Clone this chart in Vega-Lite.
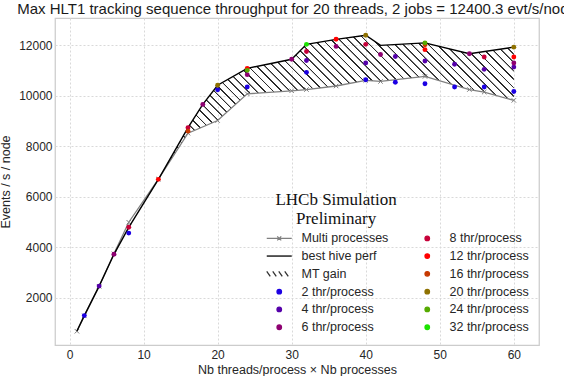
{
  "$schema": "https://vega.github.io/schema/vega-lite/v6.json",
  "width": 484,
  "height": 327,
  "autosize": {"type": "none"},
  "padding": {"left": 55, "top": 18, "right": 25, "bottom": 31},
  "title": {
    "text": "Max HLT1 tracking sequence throughput for 20 threads, 2 jobs = 12400.3 evt/s/node",
    "anchor": "middle",
    "frame": "group",
    "font": "Liberation Sans",
    "fontSize": 15,
    "fontWeight": "normal",
    "color": "#1a1a1a",
    "baseline": "alphabetic",
    "offset": -10.5
  },
  "data": {
    "values": [
      {"series": "Multi processes", "x": 1, "y": 670},
      {"series": "Multi processes", "x": 2, "y": 1280},
      {"series": "Multi processes", "x": 4, "y": 2450},
      {"series": "Multi processes", "x": 6, "y": 3740},
      {"series": "Multi processes", "x": 8, "y": 4990},
      {"series": "Multi processes", "x": 12, "y": 6700},
      {"series": "Multi processes", "x": 16, "y": 8520},
      {"series": "Multi processes", "x": 20, "y": 9020},
      {"series": "Multi processes", "x": 24, "y": 10080},
      {"series": "Multi processes", "x": 30, "y": 10200},
      {"series": "Multi processes", "x": 32, "y": 10250},
      {"series": "Multi processes", "x": 36, "y": 10390},
      {"series": "Multi processes", "x": 40, "y": 10610},
      {"series": "Multi processes", "x": 42, "y": 10570},
      {"series": "Multi processes", "x": 48, "y": 10770},
      {"series": "Multi processes", "x": 54, "y": 10250},
      {"series": "Multi processes", "x": 56, "y": 10150},
      {"series": "Multi processes", "x": 60, "y": 9820},
      {"series": "best hive perf", "x": 1, "y": 680},
      {"series": "best hive perf", "x": 2, "y": 1290},
      {"series": "best hive perf", "x": 4, "y": 2460},
      {"series": "best hive perf", "x": 6, "y": 3720},
      {"series": "best hive perf", "x": 8, "y": 4790},
      {"series": "best hive perf", "x": 12, "y": 6690},
      {"series": "best hive perf", "x": 16, "y": 8740},
      {"series": "best hive perf", "x": 18, "y": 9660},
      {"series": "best hive perf", "x": 20, "y": 10420},
      {"series": "best hive perf", "x": 24, "y": 11090},
      {"series": "best hive perf", "x": 30, "y": 11450},
      {"series": "best hive perf", "x": 32, "y": 12040},
      {"series": "best hive perf", "x": 36, "y": 12240},
      {"series": "best hive perf", "x": 40, "y": 12400.3},
      {"series": "best hive perf", "x": 42, "y": 12000},
      {"series": "best hive perf", "x": 48, "y": 12100},
      {"series": "best hive perf", "x": 54, "y": 11670},
      {"series": "best hive perf", "x": 60, "y": 11930},
      {"series": "2 thr/process", "x": 2, "y": 1290},
      {"series": "2 thr/process", "x": 8, "y": 4560},
      {"series": "2 thr/process", "x": 20, "y": 10240},
      {"series": "2 thr/process", "x": 24, "y": 10350},
      {"series": "2 thr/process", "x": 32, "y": 10930},
      {"series": "2 thr/process", "x": 40, "y": 10640},
      {"series": "2 thr/process", "x": 44, "y": 10540},
      {"series": "2 thr/process", "x": 48, "y": 10480},
      {"series": "2 thr/process", "x": 52, "y": 10350},
      {"series": "2 thr/process", "x": 56, "y": 10350},
      {"series": "2 thr/process", "x": 60, "y": 10170},
      {"series": "4 thr/process", "x": 4, "y": 2460},
      {"series": "4 thr/process", "x": 32, "y": 11400},
      {"series": "4 thr/process", "x": 40, "y": 11300},
      {"series": "4 thr/process", "x": 44, "y": 11560},
      {"series": "4 thr/process", "x": 48, "y": 11380},
      {"series": "4 thr/process", "x": 52, "y": 11250},
      {"series": "4 thr/process", "x": 56, "y": 11050},
      {"series": "4 thr/process", "x": 60, "y": 11140},
      {"series": "6 thr/process", "x": 6, "y": 3720},
      {"series": "6 thr/process", "x": 18, "y": 9660},
      {"series": "6 thr/process", "x": 24, "y": 10840},
      {"series": "6 thr/process", "x": 30, "y": 11450},
      {"series": "6 thr/process", "x": 36, "y": 11960},
      {"series": "6 thr/process", "x": 42, "y": 11640},
      {"series": "6 thr/process", "x": 54, "y": 11670},
      {"series": "6 thr/process", "x": 60, "y": 11300},
      {"series": "8 thr/process", "x": 8, "y": 4790},
      {"series": "8 thr/process", "x": 16, "y": 8740},
      {"series": "8 thr/process", "x": 32, "y": 11760},
      {"series": "8 thr/process", "x": 40, "y": 12040},
      {"series": "8 thr/process", "x": 56, "y": 11540},
      {"series": "12 thr/process", "x": 12, "y": 6690},
      {"series": "12 thr/process", "x": 24, "y": 11090},
      {"series": "12 thr/process", "x": 36, "y": 12240},
      {"series": "12 thr/process", "x": 48, "y": 11830},
      {"series": "12 thr/process", "x": 60, "y": 11540},
      {"series": "16 thr/process", "x": 16, "y": 8600},
      {"series": "16 thr/process", "x": 48, "y": 12020},
      {"series": "20 thr/process", "x": 20, "y": 10420},
      {"series": "20 thr/process", "x": 40, "y": 12400.3},
      {"series": "20 thr/process", "x": 60, "y": 11930},
      {"series": "24 thr/process", "x": 24, "y": 11010},
      {"series": "24 thr/process", "x": 48, "y": 12100},
      {"series": "32 thr/process", "x": 32, "y": 12040}
    ]
  },
  "encoding": {
    "x": {
      "field": "x",
      "type": "quantitative",
      "scale": {"domain": [-1.96, 63.4], "nice": false, "zero": false},
      "axis": {
        "values": [0, 10, 20, 30, 40, 50, 60],
        "title": "Nb threads/process × Nb processes",
        "labelPadding": 4,
        "titlePadding": 3,
        "labelFlush": false
      }
    },
    "y": {
      "field": "y",
      "type": "quantitative",
      "scale": {"domain": [125, 13085], "nice": false, "zero": false},
      "axis": {
        "values": [2000, 4000, 6000, 8000, 10000, 12000],
        "format": "d",
        "title": "Events / s / node",
        "labelPadding": 3,
        "titlePadding": 6
      }
    }
  },
  "layer": [
    {
      "transform": [
        {"filter": "(datum.series === 'Multi processes' || datum.series === 'best hive perf') && datum.x >= 12"},
        {"calculate": "datum.series === 'best hive perf' ? datum.x : 200 - datum.x", "as": "outline_order"}
      ],
      "mark": {
        "type": "line",
        "stroke": "transparent",
        "fill": {
          "gradient": "linear",
          "x1": 0, "y1": 1, "x2": 1.22, "y2": 0.5057,
          "stops": [
            {"offset": 0, "color": "rgba(0,0,0,0)"}, {"offset": 0.0008, "color": "#2b2b2b"}, {"offset": 0.0032, "color": "#2b2b2b"}, {"offset": 0.004, "color": "rgba(0,0,0,0)"},
            {"offset": 0.0167, "color": "rgba(0,0,0,0)"}, {"offset": 0.0175, "color": "#2b2b2b"}, {"offset": 0.0199, "color": "#2b2b2b"}, {"offset": 0.0207, "color": "rgba(0,0,0,0)"},
            {"offset": 0.0333, "color": "rgba(0,0,0,0)"}, {"offset": 0.0341, "color": "#2b2b2b"}, {"offset": 0.0365, "color": "#2b2b2b"}, {"offset": 0.0373, "color": "rgba(0,0,0,0)"},
            {"offset": 0.05, "color": "rgba(0,0,0,0)"}, {"offset": 0.0508, "color": "#2b2b2b"}, {"offset": 0.0532, "color": "#2b2b2b"}, {"offset": 0.054, "color": "rgba(0,0,0,0)"},
            {"offset": 0.0667, "color": "rgba(0,0,0,0)"}, {"offset": 0.0675, "color": "#2b2b2b"}, {"offset": 0.0699, "color": "#2b2b2b"}, {"offset": 0.0707, "color": "rgba(0,0,0,0)"},
            {"offset": 0.0833, "color": "rgba(0,0,0,0)"}, {"offset": 0.0841, "color": "#2b2b2b"}, {"offset": 0.0865, "color": "#2b2b2b"}, {"offset": 0.0873, "color": "rgba(0,0,0,0)"},
            {"offset": 0.1, "color": "rgba(0,0,0,0)"}, {"offset": 0.1008, "color": "#2b2b2b"}, {"offset": 0.1032, "color": "#2b2b2b"}, {"offset": 0.104, "color": "rgba(0,0,0,0)"},
            {"offset": 0.1167, "color": "rgba(0,0,0,0)"}, {"offset": 0.1175, "color": "#2b2b2b"}, {"offset": 0.1199, "color": "#2b2b2b"}, {"offset": 0.1207, "color": "rgba(0,0,0,0)"},
            {"offset": 0.1333, "color": "rgba(0,0,0,0)"}, {"offset": 0.1341, "color": "#2b2b2b"}, {"offset": 0.1365, "color": "#2b2b2b"}, {"offset": 0.1373, "color": "rgba(0,0,0,0)"},
            {"offset": 0.15, "color": "rgba(0,0,0,0)"}, {"offset": 0.1508, "color": "#2b2b2b"}, {"offset": 0.1532, "color": "#2b2b2b"}, {"offset": 0.154, "color": "rgba(0,0,0,0)"},
            {"offset": 0.1667, "color": "rgba(0,0,0,0)"}, {"offset": 0.1675, "color": "#2b2b2b"}, {"offset": 0.1699, "color": "#2b2b2b"}, {"offset": 0.1707, "color": "rgba(0,0,0,0)"},
            {"offset": 0.1833, "color": "rgba(0,0,0,0)"}, {"offset": 0.1841, "color": "#2b2b2b"}, {"offset": 0.1865, "color": "#2b2b2b"}, {"offset": 0.1873, "color": "rgba(0,0,0,0)"},
            {"offset": 0.2, "color": "rgba(0,0,0,0)"}, {"offset": 0.2008, "color": "#2b2b2b"}, {"offset": 0.2032, "color": "#2b2b2b"}, {"offset": 0.204, "color": "rgba(0,0,0,0)"},
            {"offset": 0.2167, "color": "rgba(0,0,0,0)"}, {"offset": 0.2175, "color": "#2b2b2b"}, {"offset": 0.2199, "color": "#2b2b2b"}, {"offset": 0.2207, "color": "rgba(0,0,0,0)"},
            {"offset": 0.2333, "color": "rgba(0,0,0,0)"}, {"offset": 0.2341, "color": "#2b2b2b"}, {"offset": 0.2365, "color": "#2b2b2b"}, {"offset": 0.2373, "color": "rgba(0,0,0,0)"},
            {"offset": 0.25, "color": "rgba(0,0,0,0)"}, {"offset": 0.2508, "color": "#2b2b2b"}, {"offset": 0.2532, "color": "#2b2b2b"}, {"offset": 0.254, "color": "rgba(0,0,0,0)"},
            {"offset": 0.2667, "color": "rgba(0,0,0,0)"}, {"offset": 0.2675, "color": "#2b2b2b"}, {"offset": 0.2699, "color": "#2b2b2b"}, {"offset": 0.2707, "color": "rgba(0,0,0,0)"},
            {"offset": 0.2833, "color": "rgba(0,0,0,0)"}, {"offset": 0.2841, "color": "#2b2b2b"}, {"offset": 0.2865, "color": "#2b2b2b"}, {"offset": 0.2873, "color": "rgba(0,0,0,0)"},
            {"offset": 0.3, "color": "rgba(0,0,0,0)"}, {"offset": 0.3008, "color": "#2b2b2b"}, {"offset": 0.3032, "color": "#2b2b2b"}, {"offset": 0.304, "color": "rgba(0,0,0,0)"},
            {"offset": 0.3167, "color": "rgba(0,0,0,0)"}, {"offset": 0.3175, "color": "#2b2b2b"}, {"offset": 0.3199, "color": "#2b2b2b"}, {"offset": 0.3207, "color": "rgba(0,0,0,0)"},
            {"offset": 0.3333, "color": "rgba(0,0,0,0)"}, {"offset": 0.3341, "color": "#2b2b2b"}, {"offset": 0.3365, "color": "#2b2b2b"}, {"offset": 0.3373, "color": "rgba(0,0,0,0)"},
            {"offset": 0.35, "color": "rgba(0,0,0,0)"}, {"offset": 0.3508, "color": "#2b2b2b"}, {"offset": 0.3532, "color": "#2b2b2b"}, {"offset": 0.354, "color": "rgba(0,0,0,0)"},
            {"offset": 0.3667, "color": "rgba(0,0,0,0)"}, {"offset": 0.3675, "color": "#2b2b2b"}, {"offset": 0.3699, "color": "#2b2b2b"}, {"offset": 0.3707, "color": "rgba(0,0,0,0)"},
            {"offset": 0.3833, "color": "rgba(0,0,0,0)"}, {"offset": 0.3841, "color": "#2b2b2b"}, {"offset": 0.3865, "color": "#2b2b2b"}, {"offset": 0.3873, "color": "rgba(0,0,0,0)"},
            {"offset": 0.4, "color": "rgba(0,0,0,0)"}, {"offset": 0.4008, "color": "#2b2b2b"}, {"offset": 0.4032, "color": "#2b2b2b"}, {"offset": 0.404, "color": "rgba(0,0,0,0)"},
            {"offset": 0.4167, "color": "rgba(0,0,0,0)"}, {"offset": 0.4175, "color": "#2b2b2b"}, {"offset": 0.4199, "color": "#2b2b2b"}, {"offset": 0.4207, "color": "rgba(0,0,0,0)"},
            {"offset": 0.4333, "color": "rgba(0,0,0,0)"}, {"offset": 0.4341, "color": "#2b2b2b"}, {"offset": 0.4365, "color": "#2b2b2b"}, {"offset": 0.4373, "color": "rgba(0,0,0,0)"},
            {"offset": 0.45, "color": "rgba(0,0,0,0)"}, {"offset": 0.4508, "color": "#2b2b2b"}, {"offset": 0.4532, "color": "#2b2b2b"}, {"offset": 0.454, "color": "rgba(0,0,0,0)"},
            {"offset": 0.4667, "color": "rgba(0,0,0,0)"}, {"offset": 0.4675, "color": "#2b2b2b"}, {"offset": 0.4699, "color": "#2b2b2b"}, {"offset": 0.4707, "color": "rgba(0,0,0,0)"},
            {"offset": 0.4833, "color": "rgba(0,0,0,0)"}, {"offset": 0.4841, "color": "#2b2b2b"}, {"offset": 0.4865, "color": "#2b2b2b"}, {"offset": 0.4873, "color": "rgba(0,0,0,0)"},
            {"offset": 0.5, "color": "rgba(0,0,0,0)"}, {"offset": 0.5008, "color": "#2b2b2b"}, {"offset": 0.5032, "color": "#2b2b2b"}, {"offset": 0.504, "color": "rgba(0,0,0,0)"},
            {"offset": 0.5167, "color": "rgba(0,0,0,0)"}, {"offset": 0.5175, "color": "#2b2b2b"}, {"offset": 0.5199, "color": "#2b2b2b"}, {"offset": 0.5207, "color": "rgba(0,0,0,0)"},
            {"offset": 0.5333, "color": "rgba(0,0,0,0)"}, {"offset": 0.5341, "color": "#2b2b2b"}, {"offset": 0.5365, "color": "#2b2b2b"}, {"offset": 0.5373, "color": "rgba(0,0,0,0)"},
            {"offset": 0.55, "color": "rgba(0,0,0,0)"}, {"offset": 0.5508, "color": "#2b2b2b"}, {"offset": 0.5532, "color": "#2b2b2b"}, {"offset": 0.554, "color": "rgba(0,0,0,0)"},
            {"offset": 0.5667, "color": "rgba(0,0,0,0)"}, {"offset": 0.5675, "color": "#2b2b2b"}, {"offset": 0.5699, "color": "#2b2b2b"}, {"offset": 0.5707, "color": "rgba(0,0,0,0)"},
            {"offset": 0.5833, "color": "rgba(0,0,0,0)"}, {"offset": 0.5841, "color": "#2b2b2b"}, {"offset": 0.5865, "color": "#2b2b2b"}, {"offset": 0.5873, "color": "rgba(0,0,0,0)"},
            {"offset": 0.6, "color": "rgba(0,0,0,0)"}, {"offset": 0.6008, "color": "#2b2b2b"}, {"offset": 0.6032, "color": "#2b2b2b"}, {"offset": 0.604, "color": "rgba(0,0,0,0)"},
            {"offset": 0.6167, "color": "rgba(0,0,0,0)"}, {"offset": 0.6175, "color": "#2b2b2b"}, {"offset": 0.6199, "color": "#2b2b2b"}, {"offset": 0.6207, "color": "rgba(0,0,0,0)"},
            {"offset": 0.6333, "color": "rgba(0,0,0,0)"}, {"offset": 0.6341, "color": "#2b2b2b"}, {"offset": 0.6365, "color": "#2b2b2b"}, {"offset": 0.6373, "color": "rgba(0,0,0,0)"},
            {"offset": 0.65, "color": "rgba(0,0,0,0)"}, {"offset": 0.6508, "color": "#2b2b2b"}, {"offset": 0.6532, "color": "#2b2b2b"}, {"offset": 0.654, "color": "rgba(0,0,0,0)"},
            {"offset": 0.6667, "color": "rgba(0,0,0,0)"}, {"offset": 0.6675, "color": "#2b2b2b"}, {"offset": 0.6699, "color": "#2b2b2b"}, {"offset": 0.6707, "color": "rgba(0,0,0,0)"},
            {"offset": 0.6833, "color": "rgba(0,0,0,0)"}, {"offset": 0.6841, "color": "#2b2b2b"}, {"offset": 0.6865, "color": "#2b2b2b"}, {"offset": 0.6873, "color": "rgba(0,0,0,0)"},
            {"offset": 0.7, "color": "rgba(0,0,0,0)"}, {"offset": 0.7008, "color": "#2b2b2b"}, {"offset": 0.7032, "color": "#2b2b2b"}, {"offset": 0.704, "color": "rgba(0,0,0,0)"},
            {"offset": 0.7167, "color": "rgba(0,0,0,0)"}, {"offset": 0.7175, "color": "#2b2b2b"}, {"offset": 0.7199, "color": "#2b2b2b"}, {"offset": 0.7207, "color": "rgba(0,0,0,0)"},
            {"offset": 0.7333, "color": "rgba(0,0,0,0)"}, {"offset": 0.7341, "color": "#2b2b2b"}, {"offset": 0.7365, "color": "#2b2b2b"}, {"offset": 0.7373, "color": "rgba(0,0,0,0)"},
            {"offset": 0.75, "color": "rgba(0,0,0,0)"}, {"offset": 0.7508, "color": "#2b2b2b"}, {"offset": 0.7532, "color": "#2b2b2b"}, {"offset": 0.754, "color": "rgba(0,0,0,0)"},
            {"offset": 0.7667, "color": "rgba(0,0,0,0)"}, {"offset": 0.7675, "color": "#2b2b2b"}, {"offset": 0.7699, "color": "#2b2b2b"}, {"offset": 0.7707, "color": "rgba(0,0,0,0)"},
            {"offset": 0.7833, "color": "rgba(0,0,0,0)"}, {"offset": 0.7841, "color": "#2b2b2b"}, {"offset": 0.7865, "color": "#2b2b2b"}, {"offset": 0.7873, "color": "rgba(0,0,0,0)"},
            {"offset": 0.8, "color": "rgba(0,0,0,0)"}, {"offset": 0.8008, "color": "#2b2b2b"}, {"offset": 0.8032, "color": "#2b2b2b"}, {"offset": 0.804, "color": "rgba(0,0,0,0)"},
            {"offset": 0.8167, "color": "rgba(0,0,0,0)"}, {"offset": 0.8175, "color": "#2b2b2b"}, {"offset": 0.8199, "color": "#2b2b2b"}, {"offset": 0.8207, "color": "rgba(0,0,0,0)"},
            {"offset": 0.8333, "color": "rgba(0,0,0,0)"}, {"offset": 0.8341, "color": "#2b2b2b"}, {"offset": 0.8365, "color": "#2b2b2b"}, {"offset": 0.8373, "color": "rgba(0,0,0,0)"},
            {"offset": 0.85, "color": "rgba(0,0,0,0)"}, {"offset": 0.8508, "color": "#2b2b2b"}, {"offset": 0.8532, "color": "#2b2b2b"}, {"offset": 0.854, "color": "rgba(0,0,0,0)"},
            {"offset": 0.8667, "color": "rgba(0,0,0,0)"}, {"offset": 0.8675, "color": "#2b2b2b"}, {"offset": 0.8699, "color": "#2b2b2b"}, {"offset": 0.8707, "color": "rgba(0,0,0,0)"},
            {"offset": 0.8833, "color": "rgba(0,0,0,0)"}, {"offset": 0.8841, "color": "#2b2b2b"}, {"offset": 0.8865, "color": "#2b2b2b"}, {"offset": 0.8873, "color": "rgba(0,0,0,0)"},
            {"offset": 0.9, "color": "rgba(0,0,0,0)"}, {"offset": 0.9008, "color": "#2b2b2b"}, {"offset": 0.9032, "color": "#2b2b2b"}, {"offset": 0.904, "color": "rgba(0,0,0,0)"},
            {"offset": 0.9167, "color": "rgba(0,0,0,0)"}, {"offset": 0.9175, "color": "#2b2b2b"}, {"offset": 0.9199, "color": "#2b2b2b"}, {"offset": 0.9207, "color": "rgba(0,0,0,0)"},
            {"offset": 0.9333, "color": "rgba(0,0,0,0)"}, {"offset": 0.9341, "color": "#2b2b2b"}, {"offset": 0.9365, "color": "#2b2b2b"}, {"offset": 0.9373, "color": "rgba(0,0,0,0)"},
            {"offset": 0.95, "color": "rgba(0,0,0,0)"}, {"offset": 0.9508, "color": "#2b2b2b"}, {"offset": 0.9532, "color": "#2b2b2b"}, {"offset": 0.954, "color": "rgba(0,0,0,0)"},
            {"offset": 0.9667, "color": "rgba(0,0,0,0)"}, {"offset": 0.9675, "color": "#2b2b2b"}, {"offset": 0.9699, "color": "#2b2b2b"}, {"offset": 0.9707, "color": "rgba(0,0,0,0)"},
            {"offset": 0.9833, "color": "rgba(0,0,0,0)"}, {"offset": 0.9841, "color": "#2b2b2b"}, {"offset": 0.9865, "color": "#2b2b2b"}, {"offset": 0.9873, "color": "rgba(0,0,0,0)"}
          ]
        }
      },
      "encoding": {
        "order": {"field": "outline_order", "type": "quantitative"}
      }
    },
    {
      "transform": [{"filter": "datum.series === 'Multi processes'"}],
      "mark": {"type": "line", "strokeWidth": 1.3},
      "encoding": {
        "color": {
          "field": "series",
          "type": "nominal",
          "scale": {
            "domain": ["Multi processes", "best hive perf", "MT gain", "2 thr/process", "4 thr/process", "6 thr/process", "8 thr/process", "12 thr/process", "16 thr/process", "20 thr/process", "24 thr/process", "32 thr/process"],
            "range": ["#808080", "#000000", "#333333", "#1c00e3", "#5500aa", "#8e0071", "#c60039", "#ff0000", "#c63900", "#8e7100", "#55aa00", "#1ce300"]
          },
          "legend": {
            "title": null,
            "orient": "none",
            "legendX": 218,
            "legendY": 214,
            "padding": 0,
            "columns": 2,
            "columnPadding": 32,
            "rowPadding": 4.8,
            "symbolSize": 100,
            "symbolStrokeWidth": 1.3,
            "labelOffset": 16,
            "labelFont": "Liberation Sans",
            "labelFontSize": 12.5,
            "labelColor": "#262626",
            "labelLimit": 200,
            "encode": {
              "symbols": {
                "update": {
                  "shape": [
                    {"test": "datum.value === 'Multi processes'", "value": "M-2.5,0H2.5M-0.4,-0.4L0.4,0.4M-0.4,0.4L0.4,-0.4"},
                    {"test": "datum.value === 'best hive perf'", "value": "M-2.5,0H2.5"},
                    {"test": "datum.value === 'MT gain'", "value": "M-2.5,-0.5L-1.8,0.5M-1.3,-0.5L-0.6,0.5M-0.1,-0.5L0.6,0.5M1.1,-0.5L1.8,0.5"},
                    {"value": "M0.45,0A0.45,0.45,0,1,1,-0.45,0A0.45,0.45,0,1,1,0.45,0Z"}
                  ],
                  "stroke": [
                    {"test": "datum.value === 'Multi processes'", "value": "#808080"},
                    {"test": "datum.value === 'best hive perf'", "value": "#000000"},
                    {"test": "datum.value === 'MT gain'", "value": "#333333"},
                    {"value": "transparent"}
                  ]
                }
              }
            }
          }
        }
      }
    },
    {
      "transform": [{"filter": "datum.series === 'Multi processes'"}],
      "mark": {"type": "point", "shape": "M-1,-1L1,1M-1,1L1,-1", "filled": false, "size": 20, "strokeWidth": 1, "opacity": 1},
      "encoding": {
        "color": {"field": "series", "type": "nominal"}
      }
    },
    {
      "transform": [{"filter": "datum.series === 'best hive perf'"}],
      "mark": {"type": "line", "strokeWidth": 1.4},
      "encoding": {
        "color": {"field": "series", "type": "nominal"}
      }
    },
    {
      "transform": [{"filter": "indexof(datum.series, 'thr/process') >= 0"}],
      "mark": {"type": "circle", "size": 24, "opacity": 1},
      "encoding": {
        "color": {"field": "series", "type": "nominal"}
      }
    },
    {
      "transform": [{"filter": "datum.series === '32 thr/process'"}],
      "mark": {"type": "text", "text": "LHCb Simulation", "font": "Liberation Serif", "fontSize": 17, "align": "center", "baseline": "alphabetic", "color": "#111111"},
      "encoding": {
        "x": {"datum": 36},
        "y": {"datum": 5670}
      }
    },
    {
      "transform": [{"filter": "datum.series === '32 thr/process'"}],
      "mark": {"type": "text", "text": "Preliminary", "font": "Liberation Serif", "fontSize": 17, "align": "center", "baseline": "alphabetic", "color": "#111111"},
      "encoding": {
        "x": {"datum": 36},
        "y": {"datum": 4920}
      }
    }
  ],
  "config": {
    "background": "white",
    "view": {"stroke": "#cccccc", "strokeWidth": 1.25},
    "axis": {
      "labelFont": "Liberation Sans",
      "titleFont": "Liberation Sans",
      "labelFontSize": 12,
      "titleFontSize": 12.5,
      "labelColor": "#262626",
      "titleColor": "#262626",
      "titleFontWeight": "normal",
      "ticks": false,
      "domain": false,
      "gridColor": "#d9d9d9",
      "gridDash": [2, 2],
      "gridWidth": 1
    }
  }
}
